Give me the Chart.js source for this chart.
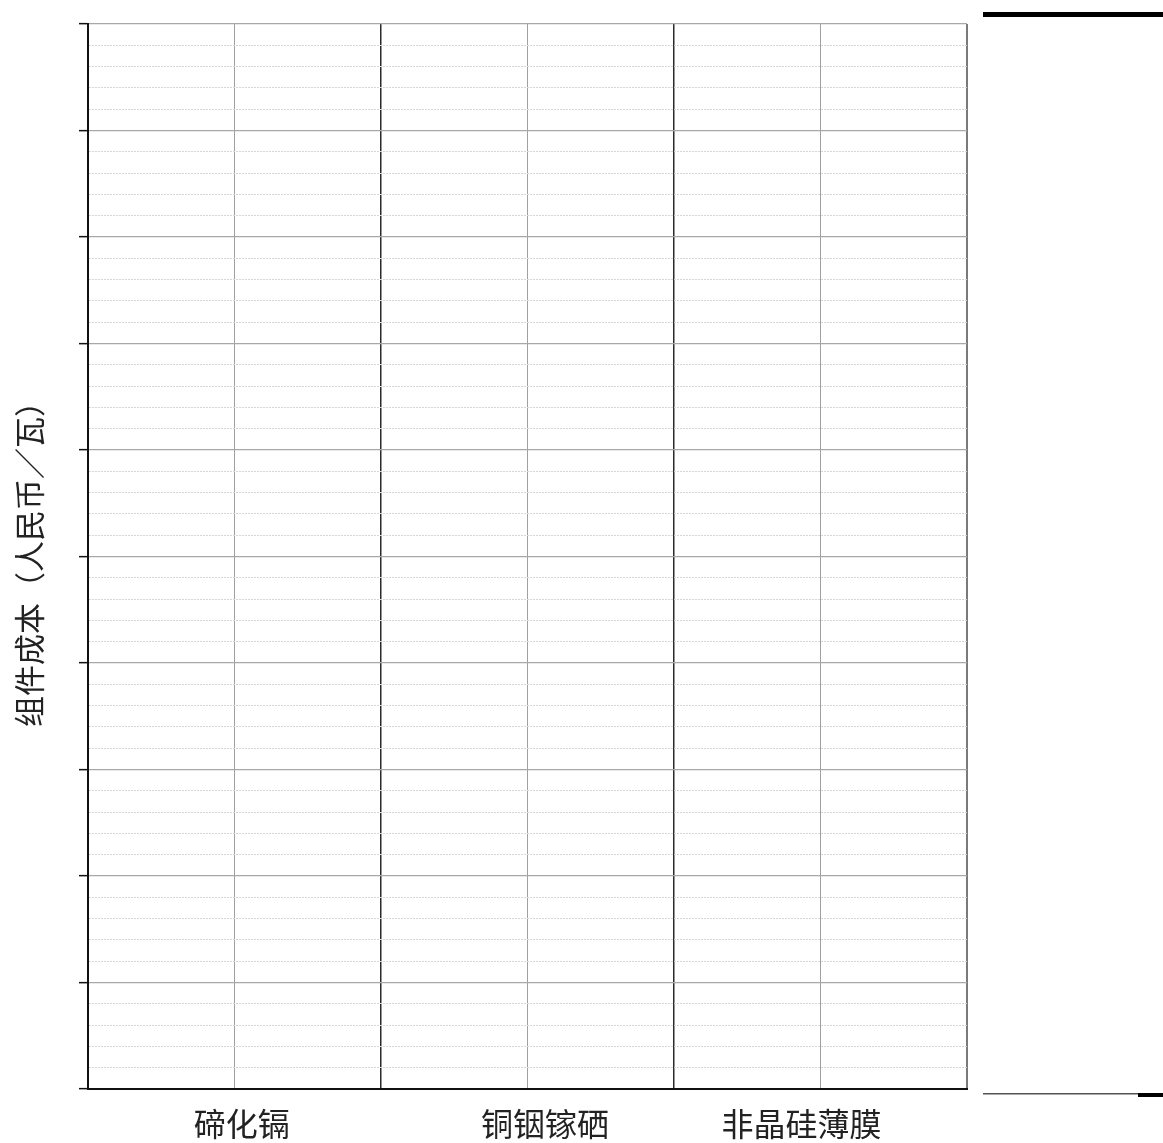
<!DOCTYPE html>
<html>
<head>
<meta charset="utf-8">
<script src="https://cdn.jsdelivr.net/npm/chart.js@4.4.1/dist/chart.umd.min.js"></script>
<style>
  html, body { margin: 0; padding: 0; background: #fff; }
  #wrap { width: 1163px; height: 1143px; position: relative; }
</style>
</head>
<body>
<div id="wrap"><canvas id="chart"></canvas></div>
<script>
// categories and values (no bars are visible in the picture)
const categories = ['碲化镉', '铜铟镓硒', '非晶硅薄膜'];
const seriesValues = [null, null, null];
// where the category labels sit along the x scale (grid units)
const labelPos = [1.05, 3.12, 4.87];
const yTitle = '组件成本（人民币／瓦）';
const yMin = 0, yMax = 5, yMinorStep = 0.1;

const FONT = '"Noto Sans CJK SC", "Noto Sans", sans-serif';

const isMajor = v => Math.round(v * 10) % 5 === 0;

// frame pieces at the right edge
const sideFrame = {
  id: 'sideFrame',
  afterDraw(chart) {
    const { ctx, chartArea, width } = chart;
    const x0 = chartArea.right + 16;
    ctx.save();
    ctx.fillStyle = '#000';
    ctx.fillRect(x0, chartArea.top - 12, width - x0, 5);
    ctx.fillStyle = '#555';
    ctx.fillRect(x0, chartArea.bottom + 4, width - x0, 1.5);
    ctx.fillStyle = '#000';
    ctx.fillRect(width - 25, chartArea.bottom + 4, 25, 4);
    ctx.restore();
  }
};

new Chart(document.getElementById('chart'), {
  type: 'bar',
  data: {
    datasets: [{
      label: '组件成本',
      data: seriesValues.map((v, i) => ({ x: labelPos[i], y: v })),
      xAxisID: 'x',
      backgroundColor: '#666'
    }]
  },
  options: {
    responsive: true,
    maintainAspectRatio: false,
    animation: false,
    layout: { padding: { top: 24, right: 196, left: 0, bottom: 0 } },
    plugins: { legend: { display: false }, tooltip: { enabled: false } },
    scales: {
      x: {
        type: 'linear',
        position: 'bottom',
        offset: false,
        min: 0, max: 6,
        ticks: { display: false, stepSize: 1 },
        grid: {
          offset: false,
          drawTicks: false,
          color: c => {
            const v = c.tick ? c.tick.value : 0;
            if (v === 2 || v === 4) return '#2a2a2a';
            if (v === 6) return '#7a7a7a';
            return '#a0a0a0';
          },
          lineWidth: c => {
            const v = c.tick ? c.tick.value : 0;
            if (v === 2 || v === 4) return 1.5;
            if (v === 6) return 2;
            return 1;
          }
        },
        border: { color: '#111', width: 2 },
        afterFit: s => { s.height = 0; }
      },
      xl: {
        type: 'linear',
        position: 'bottom',
        offset: false,
        min: 0, max: 6,
        afterBuildTicks: s => { s.ticks = labelPos.map(v => ({ value: v })); },
        ticks: {
          autoSkip: false,
          maxRotation: 0,
          padding: 16,
          color: '#222',
          font: { family: FONT, size: 32 },
          callback: (v, i) => categories[i]
        },
        grid: { display: false, drawTicks: false, offset: false },
        border: { display: false },
        afterFit: s => { s.height = 54; }
      },
      y: {
        min: yMin, max: yMax,
        ticks: { display: false, stepSize: yMinorStep },
        grid: {
          color: c => isMajor(c.tick.value) ? '#a8a8a8' : '#d6d6d6',
          lineWidth: c => isMajor(c.tick.value) ? 1.3 : 1,
          tickColor: c => isMajor(c.tick.value) ? '#111' : 'rgba(0,0,0,0)',
          tickLength: 9,
          tickWidth: 1.5
        },
        border: {
          color: '#111',
          width: 2,
          dash: c => (c.tick && !isMajor(c.tick.value)) ? [2, 1] : []
        },
        title: {
          display: true,
          text: yTitle,
          color: '#222',
          font: { family: FONT, size: 31 },
          padding: { top: 11, bottom: 0 }
        },
        afterFit: s => { s.width = 88; }
      }
    }
  },
  plugins: [sideFrame]
});
</script>
</body>
</html>
